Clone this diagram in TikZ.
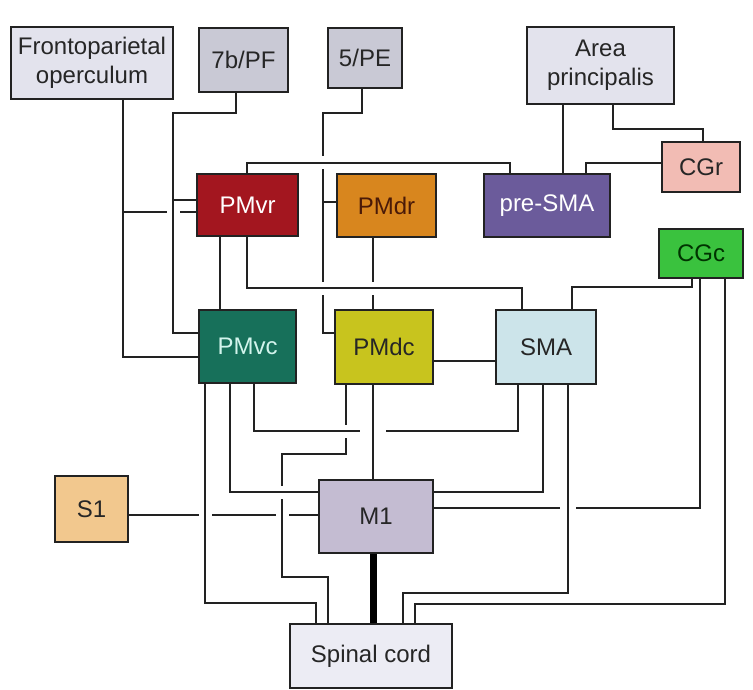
\documentclass[tikz,border=0pt]{standalone}
\usepackage{fontspec}
\setmainfont{Liberation Sans}
\pgfdeclarelayer{bg}
\pgfsetlayers{bg,main}
\definecolor{lineC}{HTML}{222222}
\definecolor{fGrey}{HTML}{E3E3ED}
\definecolor{fGreyD}{HTML}{C9C9D5}
\definecolor{fCord}{HTML}{ECECF4}
\definecolor{fPMvr}{HTML}{A3161F}
\definecolor{fPMdr}{HTML}{D8861E}
\definecolor{fPre}{HTML}{6B5B9B}
\definecolor{fCGr}{HTML}{F2BCB4}
\definecolor{fCGc}{HTML}{3AC23E}
\definecolor{fPMvc}{HTML}{17705A}
\definecolor{fPMdc}{HTML}{C8C41E}
\definecolor{fSMA}{HTML}{CCE4EA}
\definecolor{fS1}{HTML}{F2C88E}
\definecolor{fM1}{HTML}{C4BCD2}
\definecolor{tPMvc}{HTML}{D2F4EC}
\definecolor{tPMdr}{HTML}{4A1A08}
\begin{document}
\begin{tikzpicture}[x=1pt,y=-1pt,
  box/.style={draw=lineC, line width=2.2pt, inner sep=0pt, align=center,
    font=\fontsize{24}{29}\selectfont, text=black!85},
  wire/.style={draw=lineC, line width=2pt},
  over/.style={preaction={draw=white, line width=#1}},
  over/.default=13pt,
  thickwire/.style={draw=black, line width=7pt}]
\useasboundingbox (0,0) rectangle (753,690);
% nodes
\node[box, fill=fGrey, minimum width=162pt, minimum height=72pt] (fo) at (92,63) {Frontoparietal\\operculum};
\node[box, fill=fGreyD, minimum width=89pt, minimum height=64pt] (b7) at (243.5,60) {7b/PF};
\node[box, fill=fGreyD, minimum width=74pt, minimum height=60pt] (pe5) at (365,58) {5/PE};
\node[box, fill=fGrey, minimum width=147pt, minimum height=77pt] (ap) at (600.5,65.5) {Area\\principalis};
\node[box, fill=fCGr, minimum width=78pt, minimum height=50pt] (cgr) at (701,167) {CGr};
\node[box, fill=fPre, text=white, minimum width=126pt, minimum height=63pt] (presma) at (547,205.5) {pre-SMA};
\node[box, fill=fPMvr, text=white, minimum width=101pt, minimum height=62pt] (pmvr) at (247.5,205) {PMvr};
\node[box, fill=fPMdr, text=tPMdr, minimum width=99pt, minimum height=63pt] (pmdr) at (386.5,205.5) {PMdr};
\node[box, fill=fCGc, text=black!80!green, minimum width=84pt, minimum height=49pt] (cgc) at (701,253.5) {CGc};
\node[box, fill=fPMvc, text=tPMvc, minimum width=97pt, minimum height=73pt] (pmvc) at (247.5,346.5) {PMvc};
\node[box, fill=fPMdc, minimum width=98pt, minimum height=74pt] (pmdc) at (384,347) {PMdc};
\node[box, fill=fSMA, minimum width=100pt, minimum height=74pt] (sma) at (546,347) {SMA};
\node[box, fill=fS1, minimum width=73pt, minimum height=66pt] (s1) at (91.5,509) {S1};
\node[box, fill=fM1, minimum width=114pt, minimum height=73pt] (m1) at (376,516.5) {M1};
\node[box, fill=fCord, minimum width=162pt, minimum height=64pt] (sc) at (371,656) {Spinal cord};
% connectors
\begin{pgfonlayer}{bg}
\fill[white] (0,0) rectangle (753,690);
% frontoparietal operculum
\draw[wire] (fo.south -| 123,0) |- (pmvc.west |- 0,357);
\draw[wire] (pmvr.west |- 0,212) -| (fo.south -| 123,0);
% 7b/PF
\draw[wire, over] (b7.south -| 236,0) -- (236,113) -- (173,113) |- (pmvc.west |- 0,333)
   (173,200) -- (pmvr.west |- 0,200);
% 5/PE
\draw[wire] (pe5.south -| 362,0) -- (362,113) -- (323,113) |- (pmdc.west |- 0,333)
   (323,202) -- (pmdr.west |- 0,202);
% PMdr - PMdc
\draw[wire] (pmdr.south -| 373,0) -- (pmdc.north -| 373,0);
% PMvr - pre-SMA
\draw[wire, over] (pmvr.north -| 247,0) |- (510,163) -- (presma.north -| 510,0);
% Area principalis
\draw[wire] (ap.south -| 563,0) -- (presma.north -| 563,0);
\draw[wire] (ap.south -| 613,0) |- (703,129) -- (cgr.north -| 703,0);
% CGr - pre-SMA
\draw[wire] (cgr.west |- 0,163) -| (presma.north -| 586,0);
% PMvr - PMvc, PMvr - SMA
\draw[wire] (pmvr.south -| 220,0) -- (pmvc.north -| 220,0);
\draw[wire, over] (pmvr.south -| 247,0) |- (522,288) -- (sma.north -| 522,0);
% PMdc - SMA
\draw[wire] (pmdc.east |- 0,361) -- (sma.west |- 0,361);
% CGc - SMA
\draw[wire] (cgc.south -| 692,0) |- (572,287) -- (sma.north -| 572,0);
% S1 - M1
\draw[wire] (s1.east |- 0,515) -- (m1.west |- 0,515);
% PMvc - spinal cord
\draw[wire, over] (pmvc.south -| 205,0) |- (316,603) -- (sc.north -| 316,0);
% PMdc - spinal cord
\draw[wire, over] (pmdc.south -| 346,0) |- (282,454) |- (328,577) -- (sc.north -| 328,0);
% PMvc - SMA
\draw[wire, over] (pmvc.south -| 254,0) |- (518,431) -- (sma.south -| 518,0);
% PMdc - M1
\draw[wire, over=26pt] (pmdc.south -| 373,0) -- (m1.north -| 373,0);
% PMvc - M1
\draw[wire, over] (pmvc.south -| 230,0) |- (m1.west |- 0,492);
% SMA - M1
\draw[wire, line width=2.6pt] (sma.south -| 543,0) |- (m1.east |- 0,492);
% CGc - M1
\draw[wire] (cgc.south -| 700,0) |- (m1.east |- 0,508);
% SMA - spinal cord
\draw[wire, over=16pt] (sma.south -| 568,0) |- (403,593) -- (sc.north -| 403,0);
% CGc - spinal cord
\draw[wire] (cgc.south -| 725,0) |- (415,604) -- (sc.north -| 415,0);
% M1 - spinal cord
\draw[thickwire] (m1.south -| 373,0) -- (sc.north -| 373,0);
\end{pgfonlayer}
\end{tikzpicture}
\end{document}
